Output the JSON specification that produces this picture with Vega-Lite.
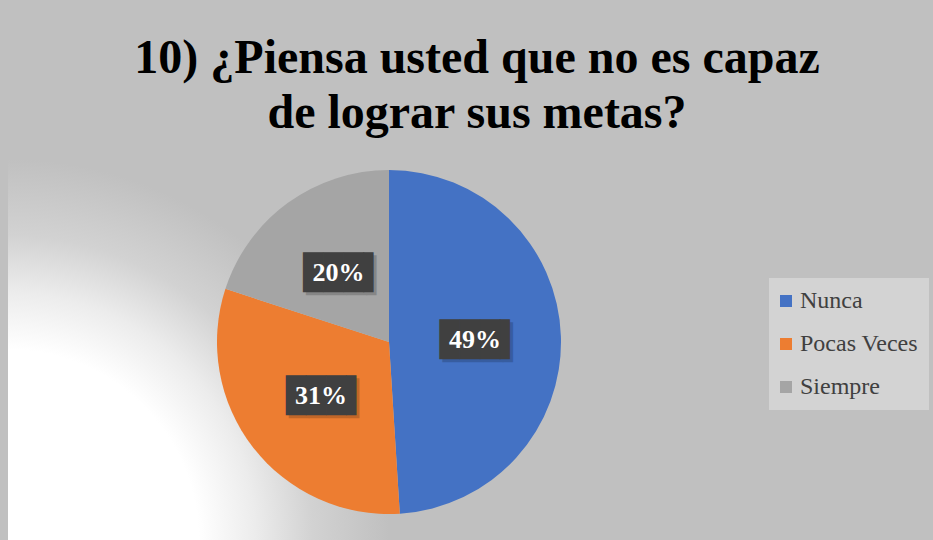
{
  "$schema": "https://vega.github.io/schema/vega-lite/v6.json",
  "width": 762,
  "height": 396,
  "autosize": {"type": "none"},
  "padding": {"left": 8, "top": 144, "right": 163, "bottom": 0},
  "background": "#c0c0c0",
  "view": {
    "stroke": null,
    "fill": {
      "gradient": "radial",
      "x1": 0, "y1": 0.76, "r1": 0.25,
      "x2": 0, "y2": 0.76, "r2": 0.5,
      "stops": [
        {"offset": 0, "color": "#ffffff"},
        {"offset": 0.3, "color": "#ececec"},
        {"offset": 0.6, "color": "#d2d2d2"},
        {"offset": 1, "color": "#c0c0c0"}
      ]
    }
  },
  "title": {
    "text": ["10) ¿Piensa usted que no es capaz", "de lograr sus metas?"],
    "font": "Liberation Serif",
    "fontSize": 48,
    "fontWeight": "bold",
    "color": "#000000",
    "lineHeight": 55,
    "anchor": "middle",
    "dx": 88,
    "offset": 6
  },
  "data": {
    "values": [
      {"cat": "Nunca", "share": 0.49},
      {"cat": "Pocas Veces", "share": 0.31},
      {"cat": "Siempre", "share": 0.20}
    ]
  },
  "encoding": {
    "theta": {"field": "share", "type": "quantitative", "stack": true}
  },
  "layer": [
    {
      "mark": {"type": "arc", "outerRadius": 172, "stroke": null},
      "encoding": {
        "color": {
          "field": "cat",
          "type": "nominal",
          "scale": {
            "domain": ["Nunca", "Pocas Veces", "Siempre"],
            "range": ["#4472C4", "#ED7D31", "#A5A5A5"]
          },
          "legend": {
            "title": null,
            "orient": "none",
            "legendX": 761,
            "legendY": 134,
            "fillColor": "#d3d3d3",
            "padding": 11,
            "symbolType": "square",
            "symbolSize": 144,
            "symbolStrokeWidth": 0,
            "symbolOffset": -6,
            "labelFont": "Liberation Serif",
            "labelFontSize": 24,
            "labelColor": "#404040",
            "labelOffset": 2,
            "rowPadding": 19,
            "labelLimit": 300
          }
        }
      }
    },
    {
      "mark": {"type": "text", "radius": 86, "text": "███▌", "font": "DejaVu Sans Mono", "fontSize": 33.5, "color": "#000000", "opacity": 0.18, "dx": 8, "dy": 5, "baseline": "middle", "align": "center"},
      "encoding": {"detail": {"field": "cat", "type": "nominal"}}
    },
    {
      "mark": {"type": "text", "radius": 86, "text": "███▌", "font": "DejaVu Sans Mono", "fontSize": 33.5, "color": "#404040", "dx": 5, "dy": 2, "baseline": "middle", "align": "center"},
      "encoding": {"detail": {"field": "cat", "type": "nominal"}}
    },
    {
      "mark": {"type": "text", "radius": 86, "font": "Liberation Serif", "fontWeight": "bold", "fontSize": 26, "color": "#ffffff", "baseline": "middle", "align": "center", "dy": 1, "text": {"expr": "format(datum.share, '.0%')"}},
      "encoding": {"detail": {"field": "cat", "type": "nominal"}}
    }
  ]
}
